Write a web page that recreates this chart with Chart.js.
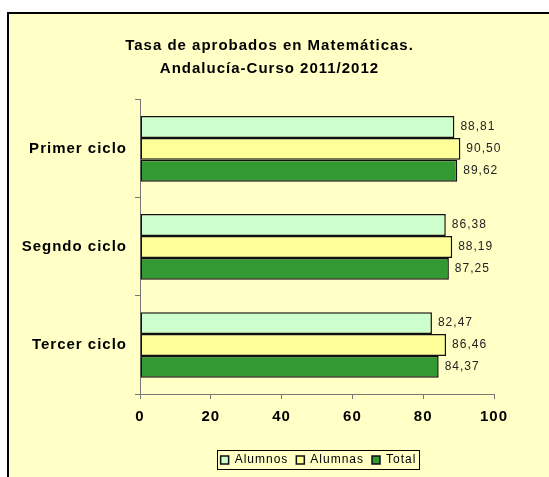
<!DOCTYPE html>
<html>
<head>
<meta charset="utf-8">
<script src="https://cdn.jsdelivr.net/npm/chart.js@4"></script>
<style>
  body { margin: 0; background: #fff; }
  #frame {
    position: absolute; left: 7px; top: 12px;
    width: 542px; height: 465px;
    border-left: 2px solid #000; border-top: 2px solid #000;
    background: #ffffc6;
  }
  #myChart { display: block; }
</style>
</head>
<body>
<div id="frame"><canvas id="myChart" width="540" height="463"></canvas></div>
<script>
const categories = ['Primer ciclo', 'Segndo ciclo', 'Tercer ciclo'];
const alumnos = [88.81, 86.38, 82.47];
const alumnas = [90.50, 88.19, 86.46];
const total = [89.62, 87.25, 84.37];
const xTicks = [0, 20, 40, 60, 80, 100];

const fontName = 'Liberation Sans, Arial, sans-serif';

// texto algo espaciado, como en el original
const spacing = {
  id: 'spacing',
  beforeUpdate(chart) { chart.ctx.letterSpacing = '1px'; },
  beforeDraw(chart) { chart.ctx.letterSpacing = '1px'; }
};

// el título y la leyenda no van centrados en el mismo sitio
const shiftBlocks = {
  id: 'shiftBlocks',
  afterLayout(chart) {
    const t = chart.titleBlock, lg = chart.legend;
    t.left += 18; t.right += 18;
    lg.left += 67; lg.right += 67;
  }
};

// etiquetas de valor a la derecha de cada barra
const valueLabels = {
  id: 'valueLabels',
  afterDatasetsDraw(chart) {
    const ctx = chart.ctx;
    ctx.save();
    ctx.font = '12px ' + fontName;
    ctx.fillStyle = '#222';
    ctx.textBaseline = 'middle';
    ctx.textAlign = 'left';
    chart.data.datasets.forEach((ds, i) => {
      chart.getDatasetMeta(i).data.forEach((bar, j) => {
        ctx.fillText(ds.data[j].toFixed(2).replace('.', ','), bar.x + 6, bar.y);
      });
    });
    ctx.restore();
  }
};

// marco alrededor de la leyenda
const legendBorder = {
  id: 'legendBorder',
  afterDraw(chart) {
    const boxes = chart.legend.legendHitBoxes;
    if (!boxes || !boxes.length) return;
    let l = Infinity, r = -Infinity, t = Infinity, b = -Infinity;
    boxes.forEach(h => {
      l = Math.min(l, h.left); r = Math.max(r, h.left + h.width);
      t = Math.min(t, h.top); b = Math.max(b, h.top + h.height);
    });
    const ctx = chart.ctx;
    ctx.save();
    ctx.strokeStyle = '#000';
    ctx.lineWidth = 1;
    ctx.strokeRect(Math.round(l - 4) + 0.5, Math.round(t - 4) + 0.5, Math.round(r - l + 6), Math.round(b - t + 7));
    ctx.restore();
  }
};

const data = {
  labels: categories,
  datasets: [
    { label: 'Alumnos', data: alumnos, backgroundColor: '#ccffcc' },
    { label: 'Alumnas', data: alumnas, backgroundColor: '#ffff99' },
    { label: 'Total', data: total, backgroundColor: '#339933' }
  ].map(d => Object.assign(d, {
    borderColor: '#111',
    borderWidth: 1.5,
    borderSkipped: false,
    categoryPercentage: 0.67,
    barPercentage: 1
  }))
};

const config = {
  type: 'bar',
  data: data,
  options: {
    indexAxis: 'y',
    responsive: false,
    animation: false,
    layout: { padding: { left: 0, right: 55, top: 0, bottom: 1 } },
    plugins: {
      title: {
        display: true,
        text: ['Tasa de aprobados en Matemáticas.', 'Andalucía-Curso 2011/2012'],
        color: '#000',
        font: { family: fontName, size: 15, weight: 'bold', lineHeight: 1.53 },
        padding: { top: 20, bottom: 20 }
      },
      legend: {
        position: 'bottom',
        labels: {
          color: '#000',
          font: { family: fontName, size: 12 },
          boxWidth: 8,
          boxHeight: 8,
          padding: 8
        }
      },
      tooltip: { enabled: false }
    },
    scales: {
      x: {
        min: 0,
        max: 100,
        afterBuildTicks: s => { s.ticks = xTicks.map(v => ({ value: v })); },
        grid: { drawOnChartArea: false, drawTicks: true, tickLength: 5, color: '#777' },
        border: { color: '#777', width: 1 },
        ticks: { color: '#000', font: { family: fontName, size: 15, weight: 'bold' }, padding: 9 },
        afterFit: s => { s.height = 52; }
      },
      y: {
        grid: { drawOnChartArea: false, drawTicks: true, tickLength: 5, color: '#777', offset: true },
        border: { color: '#777', width: 1 },
        ticks: { color: '#000', font: { family: fontName, size: 15, weight: 'bold' }, padding: 8 },
        afterFit: s => { s.width = 131; }
      }
    }
  },
  plugins: [spacing, shiftBlocks, valueLabels, legendBorder]
};

const myChart = new Chart(document.getElementById('myChart'), config);
</script>
</body>
</html>
